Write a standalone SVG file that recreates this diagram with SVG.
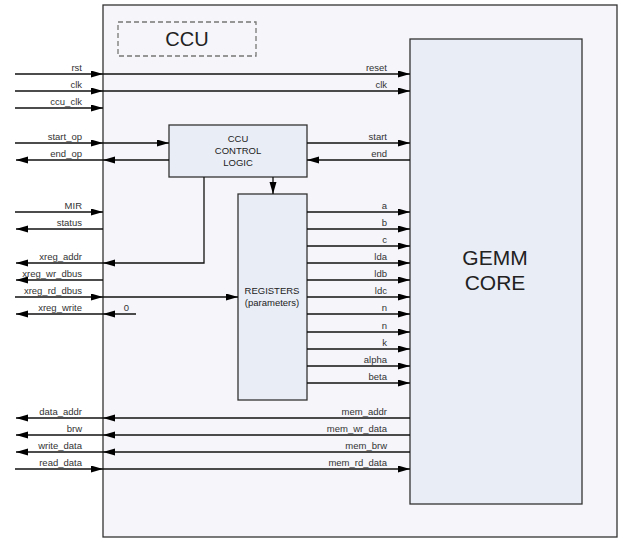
<svg xmlns="http://www.w3.org/2000/svg" width="629" height="538" viewBox="0 0 629 538">
<style>
.box{fill:#e9edf6;stroke:#333;stroke-width:1.3}
.w{stroke:#111;stroke-width:1.3;fill:none}
.a{marker-end:url(#ah)}
.lbl{font-family:"Liberation Sans",Arial,sans-serif;font-size:9.5px;fill:#333;text-anchor:end}
.c{font-family:"Liberation Sans",Arial,sans-serif;fill:#222;text-anchor:middle}
</style>
<defs>
<marker id="ah" markerUnits="userSpaceOnUse" markerWidth="12" markerHeight="8" refX="12" refY="3.5" orient="auto"><path d="M0,0 L12,3.5 L0,7 z" fill="#000"/></marker>
</defs>
<rect width="629" height="538" fill="#fff"/>
<g id="ccu">
<rect x="103" y="5" width="514" height="532" fill="#f5f5fa" stroke="#333" stroke-width="1.3"/>
<rect x="118" y="22" width="138" height="34" fill="none" stroke="#777" stroke-width="1.3" stroke-dasharray="5,3"/>
<text class="c" x="187" y="46" font-size="20">CCU</text>
</g>
<g id="gemm">
<rect class="box" x="410" y="39" width="172" height="465"/>
<text class="c" x="495" y="265" font-size="21">GEMM</text>
<text class="c" x="495" y="290" font-size="21">CORE</text>
</g>
<g id="ctrl">
<rect class="box" x="169" y="125" width="138" height="52"/>
<text class="c" x="238" y="142" font-size="9.5">CCU</text>
<text class="c" x="238" y="154" font-size="9.5">CONTROL</text>
<text class="c" x="238" y="166" font-size="9.5">LOGIC</text>
</g>
<g id="regs">
<rect class="box" x="238" y="194" width="69" height="206"/>
<text class="c" x="272" y="294" font-size="9.5">REGISTERS</text>
<text class="c" x="272" y="306" font-size="9.5">(parameters)</text>
</g>
<g id="connectors">
<!-- inputs from outside -->
<line class="w a" x1="15" y1="74" x2="103" y2="74"/>
<line class="w a" x1="103" y1="74" x2="410" y2="74"/>
<line class="w a" x1="15" y1="91" x2="103" y2="91"/>
<line class="w a" x1="103" y1="91" x2="410" y2="91"/>
<line class="w a" x1="15" y1="108" x2="103" y2="108"/>
<line class="w a" x1="15" y1="143" x2="103" y2="143"/>
<line class="w a" x1="103" y1="143" x2="169" y2="143"/>
<line class="w a" x1="103" y1="160" x2="16" y2="160"/>
<line class="w a" x1="169" y1="160" x2="103" y2="160"/>
<line class="w a" x1="307" y1="143" x2="410" y2="143"/>
<line class="w a" x1="410" y1="160" x2="307" y2="160"/>
<line class="w a" x1="273" y1="177" x2="273" y2="194"/>
<line class="w a" x1="15" y1="212" x2="103" y2="212"/>
<line class="w a" x1="103" y1="229" x2="16" y2="229"/>
<polyline class="w a" points="204,177 204,263 103,263"/>
<line class="w a" x1="103" y1="263" x2="16" y2="263"/>
<line class="w a" x1="103" y1="280" x2="16" y2="280"/>
<line class="w a" x1="15" y1="297" x2="103" y2="297"/>
<line class="w a" x1="103" y1="297" x2="238" y2="297"/>
<line class="w a" x1="103" y1="314" x2="16" y2="314"/>
<line class="w a" x1="136" y1="314" x2="103" y2="314"/>
<!-- register outputs -->
<line class="w a" x1="307" y1="212" x2="410" y2="212"/>
<line class="w a" x1="307" y1="229" x2="410" y2="229"/>
<line class="w a" x1="307" y1="246" x2="410" y2="246"/>
<line class="w a" x1="307" y1="263" x2="410" y2="263"/>
<line class="w a" x1="307" y1="280" x2="410" y2="280"/>
<line class="w a" x1="307" y1="297" x2="410" y2="297"/>
<line class="w a" x1="307" y1="314" x2="410" y2="314"/>
<line class="w a" x1="307" y1="332" x2="410" y2="332"/>
<line class="w a" x1="307" y1="349" x2="410" y2="349"/>
<line class="w a" x1="307" y1="366" x2="410" y2="366"/>
<line class="w a" x1="307" y1="383" x2="410" y2="383"/>
<!-- memory -->
<line class="w a" x1="410" y1="418" x2="103" y2="418"/>
<line class="w a" x1="103" y1="418" x2="16" y2="418"/>
<line class="w a" x1="410" y1="435" x2="103" y2="435"/>
<line class="w a" x1="103" y1="435" x2="16" y2="435"/>
<line class="w a" x1="410" y1="452" x2="103" y2="452"/>
<line class="w a" x1="103" y1="452" x2="16" y2="452"/>
<line class="w a" x1="15" y1="469" x2="103" y2="469"/>
<line class="w a" x1="103" y1="469" x2="410" y2="469"/>
</g>
<g id="labels">
<text class="lbl" x="82" y="71">rst</text>
<text class="lbl" x="82" y="88">clk</text>
<text class="lbl" x="82" y="105">ccu_clk</text>
<text class="lbl" x="82" y="140">start_op</text>
<text class="lbl" x="82" y="157">end_op</text>
<text class="lbl" x="82" y="209">MIR</text>
<text class="lbl" x="82" y="226">status</text>
<text class="lbl" x="82" y="260">xreg_addr</text>
<text class="lbl" x="82" y="277">xreg_wr_dbus</text>
<text class="lbl" x="82" y="294">xreg_rd_dbus</text>
<text class="lbl" x="82" y="311">xreg_write</text>
<text class="lbl" x="129" y="311">0</text>
<text class="lbl" x="82" y="415">data_addr</text>
<text class="lbl" x="82" y="432">brw</text>
<text class="lbl" x="82" y="449">write_data</text>
<text class="lbl" x="82" y="466">read_data</text>
<text class="lbl" x="387" y="71">reset</text>
<text class="lbl" x="387" y="88">clk</text>
<text class="lbl" x="387" y="140">start</text>
<text class="lbl" x="387" y="157">end</text>
<text class="lbl" x="387" y="209">a</text>
<text class="lbl" x="387" y="226">b</text>
<text class="lbl" x="387" y="243">c</text>
<text class="lbl" x="387" y="260">lda</text>
<text class="lbl" x="387" y="277">ldb</text>
<text class="lbl" x="387" y="294">ldc</text>
<text class="lbl" x="387" y="311">n</text>
<text class="lbl" x="387" y="329">n</text>
<text class="lbl" x="387" y="346">k</text>
<text class="lbl" x="387" y="363">alpha</text>
<text class="lbl" x="387" y="380">beta</text>
<text class="lbl" x="387" y="415">mem_addr</text>
<text class="lbl" x="387" y="432">mem_wr_data</text>
<text class="lbl" x="387" y="449">mem_brw</text>
<text class="lbl" x="387" y="466">mem_rd_data</text>
</g>
</svg>
